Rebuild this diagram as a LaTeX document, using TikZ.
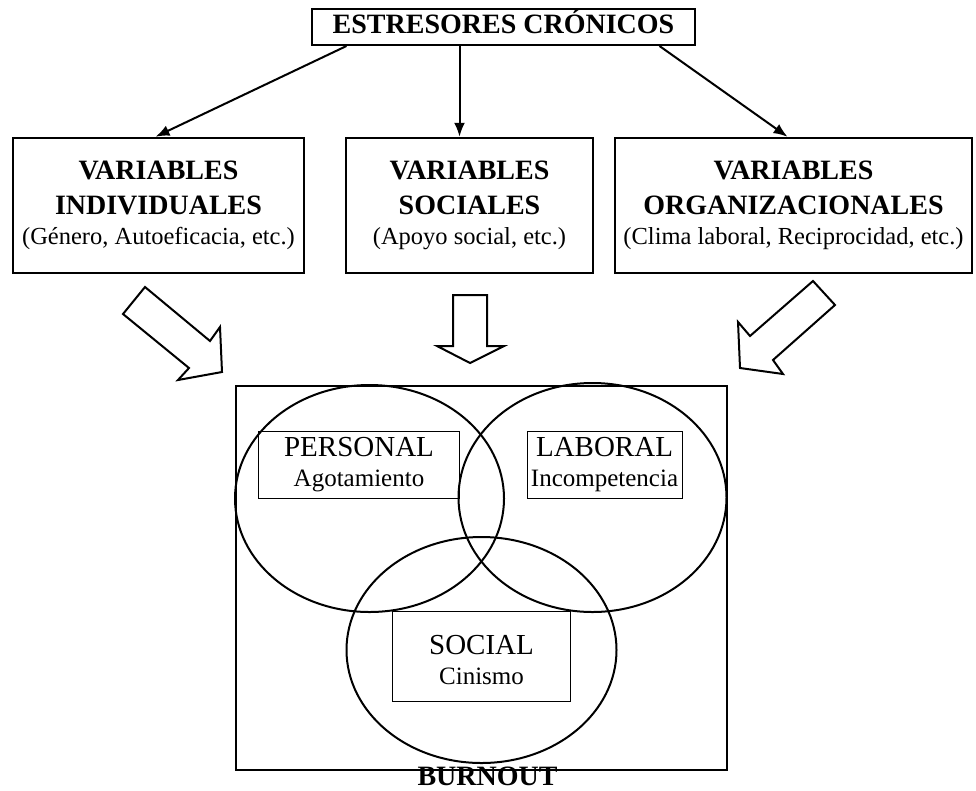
\documentclass[tikz,border=0pt]{standalone}
\usepackage{fontspec}
\setmainfont{Liberation Serif}
\usepackage{tikz}
\usetikzlibrary{arrows.meta,shapes.geometric}
\newcommand{\subtxt}[1]{{\fontsize{24.5}{30}\selectfont #1}}
\newcommand{\lowtxt}[1]{{\fontsize{25}{30}\selectfont #1}}

\begin{document}
\begin{tikzpicture}[
    x=1pt, y=-1pt,
    >={Latex[length=14pt,width=11pt]},
    vbox/.style={draw, line width=2.5pt, minimum height=135pt, inner sep=0pt, align=center, font=\bfseries\fontsize{28}{35}\selectfont},
    setbox/.style={draw, line width=1pt, inner sep=0pt, align=center, font=\fontsize{29}{30}\selectfont},
    venn/.style={ellipse, draw, line width=2pt, inner sep=0pt},
    conn/.style={->, line width=2pt},
    fatarrow/.style={draw, line width=2pt, line join=miter}
]
    \useasboundingbox (0,0) rectangle (976,790);

    % Top box
    \node [draw, line width=2pt, minimum width=383pt, minimum height=36pt, inner sep=0pt, text height=18pt, text depth=6pt, font=\bfseries\fontsize{28}{35}\selectfont] (estresores) at (503.5,27) {ESTRESORES CRÓNICOS};

    % Variables (one row)
    \node [vbox, minimum width=291pt] (individuales) at (158.5,205.5) {VARIABLES\\INDIVIDUALES\\[-5pt]\subtxt{\mdseries(Género, Autoeficacia, etc.)}};
    \node [vbox, minimum width=247pt] (sociales) at (469.5,205.5) {VARIABLES\\SOCIALES\\[-5pt]\subtxt{\mdseries(Apoyo social, etc.)}};
    \node [vbox, minimum width=357pt] (organizacionales) at (793.5,205.5) {VARIABLES\\ORGANIZACIONALES\\[-5pt]\subtxt{\mdseries(Clima laboral, Reciprocidad, etc.)}};

    % Arrows
    \draw[conn] ([xshift=-157pt]estresores.south) -- ([xshift=-3pt]individuales.north);
    \draw[conn] ([xshift=-44pt]estresores.south) coordinate (mid) -- (mid |- sociales.north);
    \draw[conn] ([xshift=156pt]estresores.south) -- ([xshift=-6pt]organizacionales.north);

    % Block arrows
    \draw[fatarrow] (145,287) -- (210,341) -- (220,327) -- (222,372) -- (178,380) -- (189,368) -- (123,314) -- cycle;
    \draw[fatarrow] (453,295) -- (453,346) -- (437,346) -- (470,363) -- (504,346) -- (487,346) -- (487,295) -- cycle;
    \draw[fatarrow] (813,281) -- (835,305) -- (773,360) -- (783,374) -- (740,368) -- (738,322) -- (750,336) -- cycle;

    % Burnout
    \node [draw, line width=2.5pt, minimum width=491pt, minimum height=384pt] (burnoutbox) at (481.5,578) {};
    \node [venn, minimum width=269pt, minimum height=227pt] (personal) at (369.5,498.5) {};
    \node [venn, minimum width=268pt, minimum height=229pt] (laboral) at (592.5,497.5) {};
    \node [venn, minimum width=270pt, minimum height=226pt] (social) at (481.5,650) {};

    \node [setbox, minimum width=201pt, minimum height=67pt] (personalbox) at (359,465) {PERSONAL\\\lowtxt{Agotamiento}};
    \node [setbox, minimum width=155pt, minimum height=67pt] (laboralbox) at (604.5,465) {LABORAL\\\lowtxt{Incompetencia}};
    \node [setbox, minimum width=178pt, minimum height=90pt] (socialbox) at (481.5,656.5) {\rule{0pt}{27pt}SOCIAL\\\lowtxt{Cinismo}};

    \node [anchor=base, inner sep=0pt, font=\bfseries\fontsize{28}{35}\selectfont] (burnout) at (487.5,785) {BURNOUT};
\end{tikzpicture}
\end{document}
